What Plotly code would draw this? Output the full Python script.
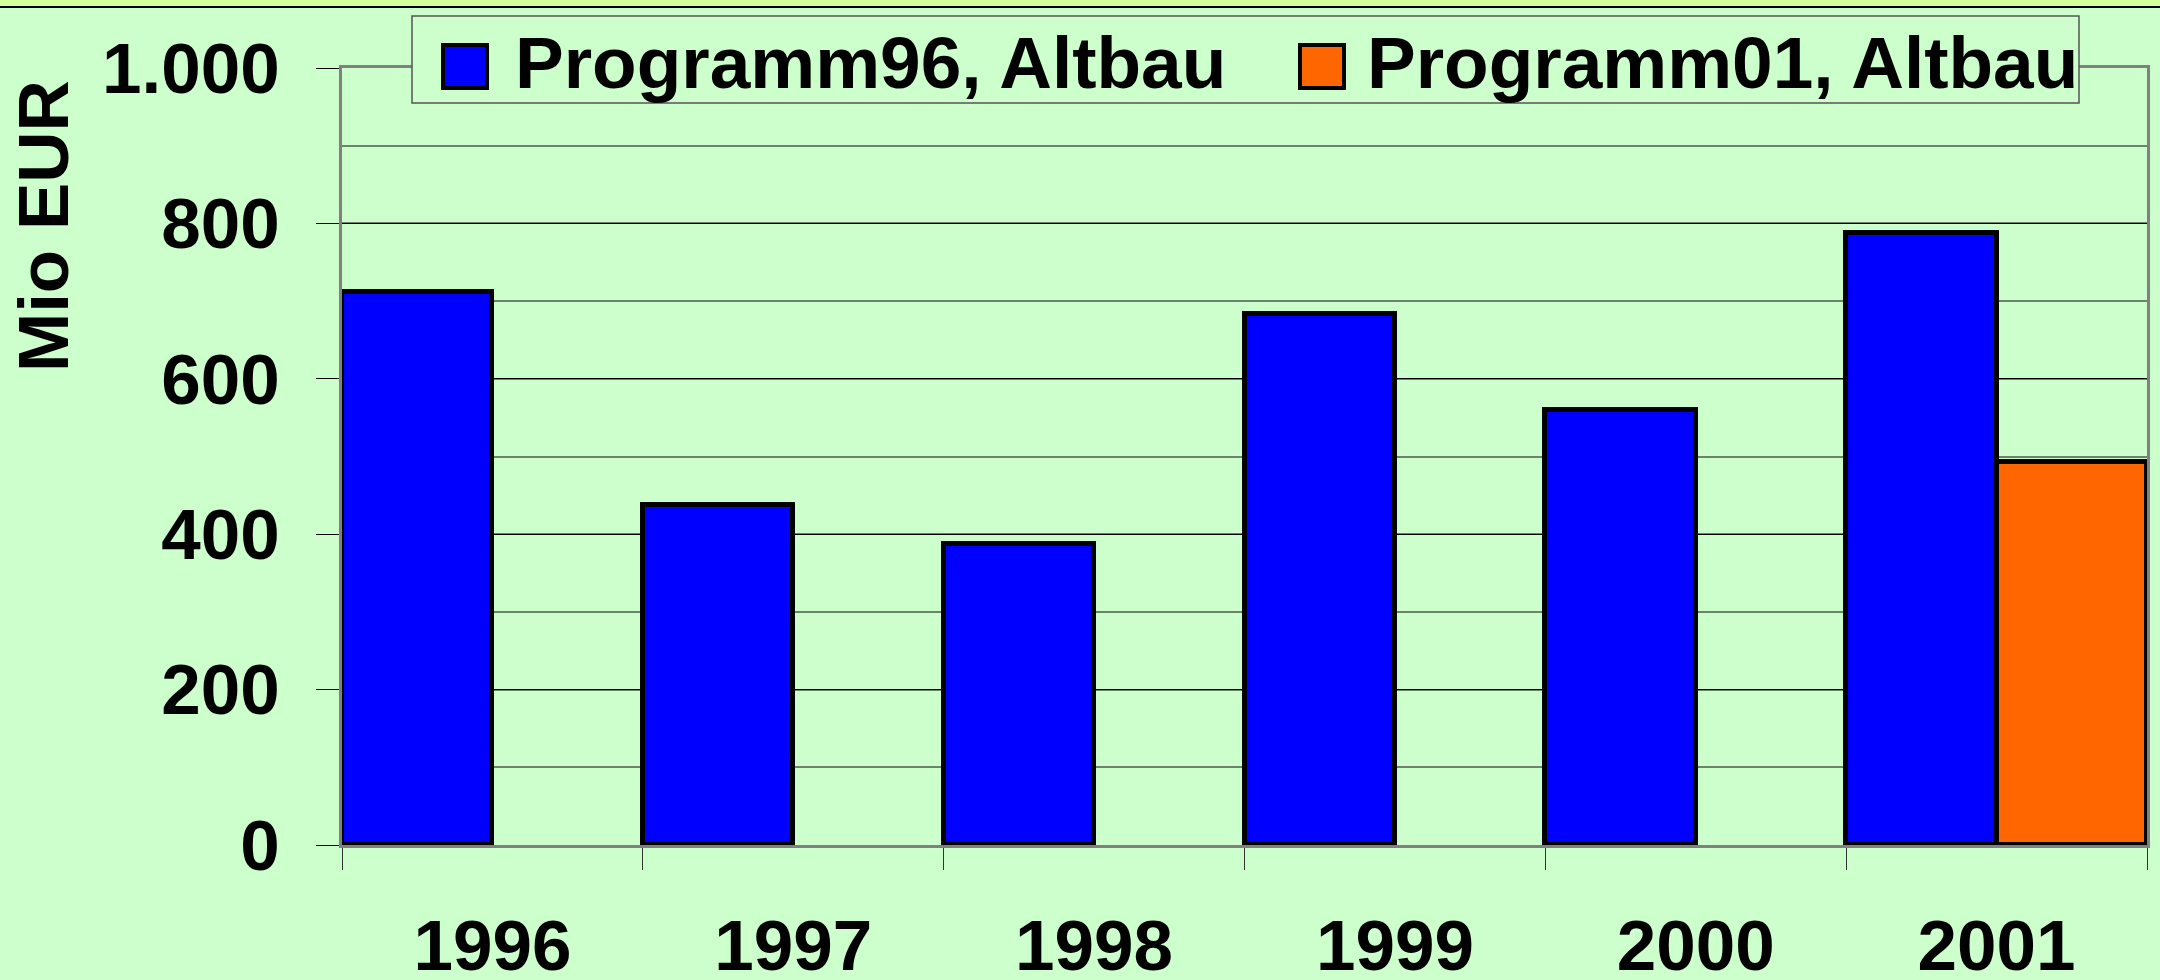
import plotly.graph_objects as go

# Daten (Mio EUR)
years = ["1996", "1997", "1998", "1999", "2000", "2001"]
programm96 = [712, 438, 387, 683, 560, 788]
programm01 = [None, None, None, None, None, 493]
series_names = ["Programm96, Altbau", "Programm01, Altbau"]
series_colors = ["#0000FF", "#FF6600"]
y_ticks = [0, 200, 400, 600, 800, 1000]

W, H = 2160, 980
L, R, T, B = 342, 13, 68, 135
FONT = "Liberation Sans, Arial, sans-serif"
BG = "#CCFFCC"


def px_x(p):
    return (p - L) / (W - L - R)


def px_y(p):
    return (H - B - p) / (H - T - B)


fig = go.Figure()
for name, vals, col in zip(series_names, [programm96, programm01], series_colors):
    fig.add_trace(go.Bar(
        x=years, y=vals, name=name,
        marker=dict(color=col, line=dict(color="black", width=5)),
        showlegend=False,
    ))

fig.update_layout(
    width=W, height=H,
    margin=dict(l=L, r=R, t=T, b=B),
    paper_bgcolor=BG, plot_bgcolor=BG,
    barmode="group", bargap=0, bargroupgap=0,
    separators=",.",
    font=dict(family=FONT, size=71, color="black", weight="bold"),
    xaxis=dict(
        showline=True, linecolor="#808080", linewidth=3, mirror=True,
        tickson="boundaries", ticks="outside", ticklen=22, tickcolor="#333333",
        tickwidth=1, showgrid=False, ticklabelstandoff=37, automargin=False,
    ),
    yaxis=dict(
        range=[0, 1000], tickvals=y_ticks, tickformat=",d",
        showline=True, linecolor="#808080", linewidth=3, mirror=True,
        ticks="outside", ticklen=23, tickcolor="black", tickwidth=1,
        gridcolor="black", gridwidth=1, zeroline=False,
        minor=dict(dtick=100, showgrid=True, gridcolor="#6b826b", gridwidth=2),
        ticklabelstandoff=22, automargin=False,
    ),
)

# Titel der y-Achse
fig.add_annotation(
    text="Mio EUR", textangle=-90, showarrow=False,
    xref="paper", yref="paper", x=px_x(43), y=px_y(226),
    xanchor="center", yanchor="middle",
    font=dict(family=FONT, size=71, color="black", weight="bold"),
)

# Streifen oben
fig.add_shape(type="rect", xref="paper", yref="paper",
              x0=px_x(0), x1=px_x(W), y0=px_y(7), y1=px_y(0),
              fillcolor="#D4FF99", line_width=0, layer="above")
fig.add_shape(type="line", xref="paper", yref="paper",
              x0=px_x(0), x1=px_x(W), y0=px_y(7), y1=px_y(7),
              line=dict(color="black", width=2), layer="above")

# Legende
fig.add_shape(type="rect", xref="paper", yref="paper",
              x0=px_x(412), x1=px_x(2079), y0=px_y(103), y1=px_y(16),
              fillcolor=BG, line=dict(color="#555555", width=1.5), layer="above")
legend_items = [(443, 513), (1300, 1365)]
for (sx, tx), name, col in zip(legend_items, series_names, series_colors):
    fig.add_shape(type="rect", xref="paper", yref="paper",
                  x0=px_x(sx), x1=px_x(sx + 44), y0=px_y(88), y1=px_y(45),
                  fillcolor=col, line=dict(color="black", width=4), layer="above")
    fig.add_annotation(
        text=name, showarrow=False, xref="paper", yref="paper",
        x=px_x(tx), y=px_y(62), xanchor="left", yanchor="middle",
        font=dict(family=FONT, size=73, color="black", weight="bold"),
    )

fig.write_html("out.html", config=dict(displayModeBar=False),
               post_script="document.body.style.margin='0';")
